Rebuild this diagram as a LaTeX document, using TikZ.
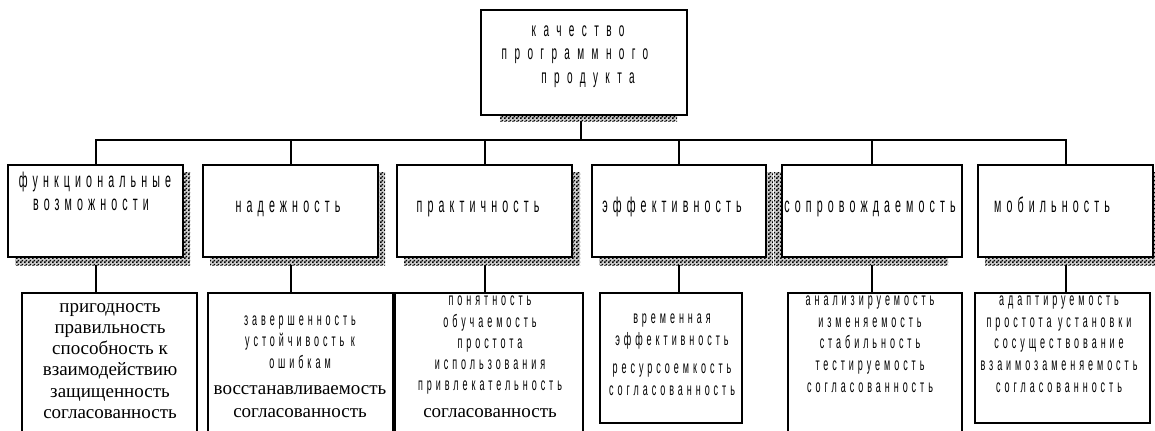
\documentclass[tikz,border=0pt]{standalone}
\usepackage{fontspec}
\setmainfont{Liberation Serif}
\newfontfamily\topf[FakeStretch=0.5,LetterSpace=37]{Liberation Sans}
\newfontfamily\catf[FakeStretch=0.5,LetterSpace=24]{Liberation Sans}
\newfontfamily\lowf[FakeStretch=0.5,LetterSpace=22]{Liberation Sans}
\usetikzlibrary{patterns,fit}
\pgfdeclarepatternformonly{finechecker}{\pgfqpoint{0pt}{0pt}}{\pgfqpoint{3pt}{3pt}}{\pgfqpoint{3pt}{3pt}}{%
  \pgfpathrectangle{\pgfqpoint{0pt}{0pt}}{\pgfqpoint{1.5pt}{1.5pt}}%
  \pgfpathrectangle{\pgfqpoint{1.5pt}{1.5pt}}{\pgfqpoint{1.5pt}{1.5pt}}%
  \pgfusepath{fill}}
\pgfdeclarelayer{bg}
\pgfsetlayers{bg,main}
\begin{document}
\begin{tikzpicture}[x=0.75pt,y=-0.75pt,
  box/.style={draw, line width=1.5pt, fill=white, inner sep=0pt, outer sep=0pt},
  shadowbox/.style={fill=gray!40, postaction={pattern=finechecker}},
  conn/.style={line width=1.5pt},
  topt/.style={font=\topf\fontsize{15}{18}\selectfont, anchor=base, inner sep=0pt},
  catt/.style={font=\catf\fontsize{16}{19}\selectfont, anchor=base, inner sep=0pt},
  lows/.style={font=\lowf\fontsize{13.5}{16}\selectfont, anchor=base, inner sep=0pt},
  lowr/.style={font=\fontsize{14.25}{17}\selectfont, anchor=base, inner sep=0pt}]
\useasboundingbox (0,0) rectangle (1155,430);

% shadows
\fill[shadowbox] (500,25) rectangle (677,121);
\fill[shadowbox] (15,172) rectangle (190,265);
\fill[shadowbox] (210,172) rectangle (385,265);
\fill[shadowbox] (404,172) rectangle (580,265);
\fill[shadowbox] (599,172) rectangle (773,265);
\fill[shadowbox] (774,172) rectangle (948,265);
\fill[shadowbox] (985,172) rectangle (1162,265);

% boxes
\node[box, fit={(481,10) (687,115)}] (top) {};
\node[box, fit={(8,165) (183,257)}] (c1) {};
\node[box, fit={(203,165) (378,257)}] (c2) {};
\node[box, fit={(397,165) (572,257)}] (c3) {};
\node[box, fit={(592,165) (766,257)}] (c4) {};
\node[box, fit={(782,165) (962,257)}] (c5) {};
\node[box, fit={(978,165) (1153,257)}] (c6) {};
\node[box, fit={(22,293) (197,445)}] (l1) {};
\node[box, fit={(208,293) (393,445)}] (l2) {};
\node[box, fit={(395,293) (583,445)}] (l3) {};
\node[box, fit={(600,293) (742,423)}] (l4) {};
\node[box, fit={(788,293) (962,445)}] (l5) {};
\node[box, fit={(975,293) (1150,423)}] (l6) {};

% connectors
\coordinate (bar) at (581,140);
\begin{pgfonlayer}{bg}
\draw[conn] (top.south -| bar) -- (bar);
\draw[conn] (c1.north) |- (bar) -| (c6.north);
\foreach \i in {2,...,5} \draw[conn] (c\i.north) -- (c\i.north |- bar);
\foreach \i in {1,...,6} \draw[conn] (c\i.south) -- (c\i.south |- l\i.north);
\end{pgfonlayer}

% top text
\node[topt] (tt1) at (578,36) {качество};
\node[topt] (tt2) at (575,59) {программного};
\node[topt] (tt3) at (588,83) {продукта};

% category texts
\node[catt] (ct1a) at (95,187) {функциональные};
\node[catt] (ct1b) at (91,210) {возможности};
\node[catt] (ct2) at (288,212) {надежность};
\node[catt] (ct3) at (478,212) {практичность};
\node[catt] (ct4) at (672,212) {эффективность};
\node[catt] (ct5) at (870,212) {сопровождаемость};
\node[catt] (ct6) at (1052,212) {мобильность};

% lower texts
\foreach \s/\t/\yy [count=\i] in {lowr/пригодность/312, lowr/правильность/333, lowr/способность к/354, lowr/взаимодействию/375, lowr/защищенность/397, lowr/согласованность/418}
  \node[\s] (xa\i) at (110,\yy) {\t};
\foreach \s/\t/\yy [count=\i] in {lows/завершенность/325, lows/устойчивость к/346, lows/ошибкам/368, lowr/восстанавливаемость/394, lowr/согласованность/417}
  \node[\s] (xb\i) at (300,\yy) {\t};
\foreach \s/\t/\yy [count=\i] in {lows/понятность/305, lows/обучаемость/327, lows/простота/348, lows/использования/369, lows/привлекательность/390, lowr/согласованность/417}
  \node[\s] (xc\i) at (490,\yy) {\t};
\foreach \s/\t/\yy [count=\i] in {lows/временная/323, lows/эффективность/345, lows/ресурсоемкость/373, lows/согласованность/395}
  \node[\s] (xd\i) at (672,\yy) {\t};
\foreach \s/\t/\yy [count=\i] in {lows/анализируемость/305, lows/изменяемость/327, lows/стабильность/348, lows/тестируемость/370, lows/согласованность/392}
  \node[\s] (xe\i) at (870,\yy) {\t};
\foreach \s/\t/\yy [count=\i] in {lows/адаптируемость/305, lows/простота установки/327, lows/сосуществование/348, lows/взаимозаменяемость/370, lows/согласованность/392}
  \node[\s] (xf\i) at (1059,\yy) {\t};
\end{tikzpicture}
\end{document}
